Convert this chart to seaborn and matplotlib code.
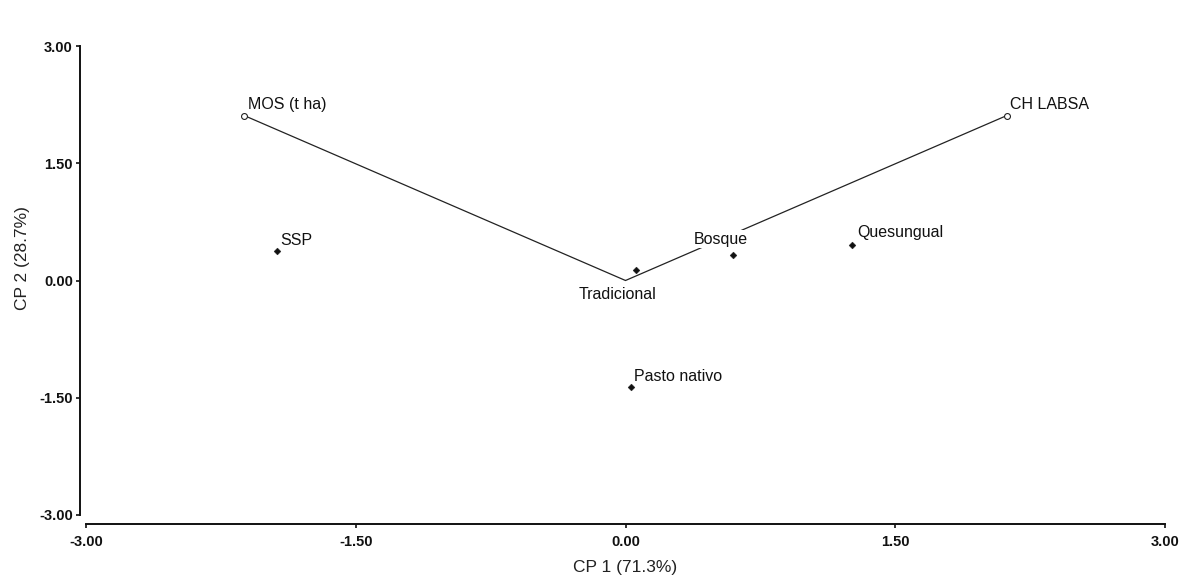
import matplotlib
matplotlib.use("Agg")
import matplotlib.pyplot as plt
import seaborn as sns
import pandas as pd
from matplotlib import font_manager as fm

# Observations (scores)
obs_names = ["SSP", "Tradicional", "Bosque", "Quesungual", "Pasto nativo"]
obs_cp1 = [-1.94, 0.06, 0.60, 1.26, 0.03]
obs_cp2 = [0.38, 0.13, 0.33, 0.46, -1.36]

# Variables (vectors)
var_names = ["MOS (t ha)", "CH LABSA"]
var_cp1 = [-2.12, 2.12]
var_cp2 = [2.11, 2.11]

ticks = [-3.00, -1.50, 0.00, 1.50, 3.00]

sns.set_theme(style="ticks")
plt.rcParams["font.family"] = ["Liberation Sans", "DejaVu Sans"]

fig = plt.figure(figsize=(11.81, 5.79), dpi=100)
ax = fig.add_axes([86/1181, 1-515/579, (1165-86)/1181, (515-46)/579])

# vectors
for vx, vy in zip(var_cp1, var_cp2):
    ax.plot([0, vx], [0, vy], color="#222222", lw=0.9, zorder=2)
vdf = pd.DataFrame({"CP1": var_cp1, "CP2": var_cp2, "name": var_names})
sns.scatterplot(data=vdf, x="CP1", y="CP2", ax=ax, marker="o", s=18,
                facecolor="white", edgecolor="#222222", linewidth=0.8, zorder=5)

odf = pd.DataFrame({"CP1": obs_cp1, "CP2": obs_cp2, "name": obs_names})
sns.scatterplot(data=odf, x="CP1", y="CP2", ax=ax, marker="D", s=12,
                color="#111111", edgecolor="#111111", linewidth=0.3, zorder=5)

fs = 11.5
label_off = {
    "SSP": (4, 3, "left", "bottom"),
    "Tradicional": (-19, -17, "center", "top"),
    "Bosque": (-13, 8, "center", "bottom"),
    "Quesungual": (5, 5, "left", "bottom"),
    "Pasto nativo": (3, 3, "left", "bottom"),
    "MOS (t ha)": (4, 4, "left", "bottom"),
    "CH LABSA": (3, 4, "left", "bottom"),
}
for n, x, y in list(zip(obs_names, obs_cp1, obs_cp2)) + list(zip(var_names, var_cp1, var_cp2)):
    dx, dy, ha, va = label_off[n]
    ax.annotate(n, (x, y), xytext=(dx, dy), textcoords="offset pixels",
                ha=ha, va=va, fontsize=fs, color="#111111", zorder=4,
                bbox=dict(boxstyle="square,pad=0.1", fc="white", ec="none"))

ax.set_xlim(-3, 3)
ax.set_ylim(-3, 3)
sns.despine(ax=ax, offset={"left": 4.5, "bottom": 6.5})
for s in ["left", "bottom"]:
    ax.spines[s].set_linewidth(1.4)
    ax.spines[s].set_color("#111111")

# ticks after despine (spine offset resets ticks)
ax.set_xticks(ticks)
ax.set_yticks(ticks)
fp = fm.FontProperties(family="Liberation Sans", weight="bold", size=10.5)
ax.set_xticklabels([f"{t:.2f}" for t in ticks], fontproperties=fp, color="#111111")
ax.set_yticklabels([f"{t:.2f}" for t in ticks], fontproperties=fp, color="#111111")
ax.tick_params(length=3, width=1.2, color="#111111")
ax.tick_params(axis="x", pad=5)
ax.tick_params(axis="y", pad=2)
ax.set_xlabel("CP 1 (71.3%)", fontsize=12.5, labelpad=8, color="#222222")
ax.set_ylabel("CP 2 (28.7%)", fontsize=12.5, color="#222222")
ax.yaxis.set_label_coords(-0.052, 0.548)

fig.savefig("out.png", dpi=100)
